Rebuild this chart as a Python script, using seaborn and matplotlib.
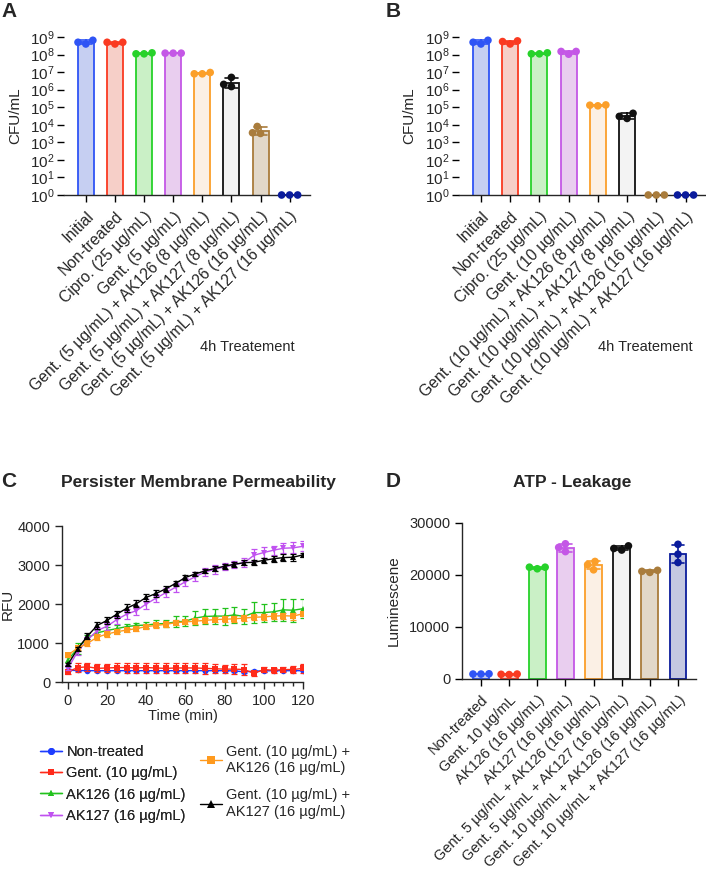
import numpy as np
import pandas as pd
import seaborn as sns
import matplotlib.pyplot as plt
from matplotlib.lines import Line2D
from matplotlib.ticker import LogLocator, MultipleLocator, NullFormatter

sns.set_theme(style='ticks')
plt.rcParams['font.family'] = ['Liberation Sans', 'DejaVu Sans']
plt.rcParams['mathtext.fontset'] = 'custom'
plt.rcParams['mathtext.rm'] = 'Liberation Sans'
plt.rcParams['mathtext.default'] = 'regular'
plt.rcParams['axes.linewidth'] = 1.0

# ---- data ----
edge_cols = ['#2f54f5', '#fa3a21', '#27d22a', '#c457e6', '#fb9f2a', '#111111', '#a97c3c', '#0b1c9c']
face_cols = ['#bfcbf9', '#fec9c0', '#c4f7bf', '#ecc9f4', '#fff0e1', '#f3f3f3', '#e6d9c5', '#bfc4e6']

labels_a = ['Initial', 'Non-treated', 'Cipro. (25 µg/mL)', 'Gent. (5 µg/mL)',
            'Gent. (5 µg/mL) + AK126 (8 µg/mL)', 'Gent. (5 µg/mL) + AK127 (8 µg/mL)',
            'Gent. (5 µg/mL) + AK126 (16 µg/mL)', 'Gent. (5 µg/mL) + AK127 (16 µg/mL)']
cfu_a = [[4.0e8, 6.5e8, 5.0e8], [4.0e8, 5.0e8, 5.0e8], [1.1e8, 1.25e8, 1.1e8],
         [1.2e8, 1.2e8, 1.2e8], [8.0e6, 9.5e6, 8.0e6], [5.0e6, 1.5e6, 2.0e6],
         [8.0e3, 3.2e3, 3.5e3], [1, 1, 1]]

labels_b = ['Initial', 'Non-treated', 'Cipro. (25 µg/mL)', 'Gent. (10 µg/mL)',
            'Gent. (10 µg/mL) + AK126 (8 µg/mL)', 'Gent. (10 µg/mL) + AK127 (8 µg/mL)',
            'Gent. (10 µg/mL) + AK126 (16 µg/mL)', 'Gent. (10 µg/mL) + AK127 (16 µg/mL)']
cfu_b = [[4.0e8, 6.5e8, 5.0e8], [4.0e8, 6.0e8, 5.5e8], [1.1e8, 1.25e8, 1.1e8],
         [1.05e8, 1.5e8, 1.5e8], [1.2e5, 1.35e5, 1.3e5], [2.3e4, 4.5e4, 3.0e4],
         [1, 1, 1], [1, 1, 1]]

labels_d = ['Non-treated', 'Gent. 10 µg/mL', 'AK126 (16 µg/mL)', 'AK127 (16 µg/mL)',
            'Gent. 5 µg/mL + AK126 (16 µg/mL)', 'Gent. 5 µg/mL + AK127 (16 µg/mL)',
            'Gent. 10 µg/mL + AK126 (16 µg/mL)', 'Gent. 10 µg/mL + AK127 (16 µg/mL)']
lum_d = [[950, 1000, 950], [850, 950, 900], [21200, 21500, 21500], [26000, 24500, 25300],
         [22600, 21000, 22000], [24800, 25600, 25100], [20500, 20900, 20700],
         [25900, 24000, 22400]]

time = [0, 5, 10, 15, 20, 25, 30, 35, 40, 45, 50, 55, 60, 65, 70, 75, 80, 85, 90, 95, 100, 105, 110, 115, 120]
nt_mean = [300, 295, 290, 290, 290, 290, 290, 290, 290, 290, 290, 290, 290, 290, 290, 290, 290, 285, 260, 280, 285, 290, 290, 290, 290]
nt_sd = [30, 25, 20, 20, 20, 20, 20, 20, 20, 20, 20, 20, 20, 20, 20, 20, 20, 20, 30, 20, 20, 20, 20, 20, 20]
gent_mean = [260, 370, 390, 350, 360, 370, 370, 360, 370, 360, 350, 360, 360, 360, 350, 340, 330, 330, 320, 220, 320, 300, 320, 320, 350]
gent_sd = [60, 110, 110, 100, 110, 120, 130, 140, 130, 140, 130, 130, 120, 130, 140, 120, 110, 120, 130, 70, 60, 70, 70, 80, 110]
ak126_mean = [570, 860, 1130, 1260, 1320, 1370, 1420, 1450, 1460, 1490, 1500, 1540, 1560, 1640, 1680, 1690, 1690, 1720, 1680, 1780, 1780, 1800, 1850, 1840, 1880]
ak126_sd = [60, 130, 80, 80, 90, 90, 70, 60, 80, 90, 90, 140, 130, 170, 200, 190, 220, 210, 180, 260, 230, 230, 290, 300, 240]
ak127_mean = [350, 780, 1080, 1320, 1430, 1600, 1740, 1830, 2000, 2150, 2290, 2430, 2570, 2700, 2820, 2890, 2950, 3010, 3060, 3250, 3320, 3380, 3430, 3440, 3480]
ak127_sd = [40, 100, 80, 100, 90, 100, 120, 110, 120, 110, 110, 110, 100, 110, 110, 110, 90, 90, 110, 150, 130, 120, 130, 140, 130]
g126_mean = [690, 870, 990, 1150, 1230, 1290, 1330, 1370, 1420, 1450, 1480, 1520, 1540, 1560, 1580, 1600, 1610, 1620, 1640, 1660, 1670, 1690, 1700, 1690, 1750]
g126_sd = [60, 60, 70, 70, 70, 60, 60, 60, 60, 60, 60, 60, 60, 60, 60, 70, 70, 70, 70, 70, 70, 80, 80, 90, 70]
g127_mean = [450, 850, 1180, 1450, 1580, 1740, 1890, 2010, 2170, 2270, 2390, 2530, 2680, 2770, 2850, 2910, 2970, 3020, 3060, 3070, 3120, 3160, 3190, 3200, 3260]
g127_sd = [40, 60, 70, 80, 90, 90, 100, 80, 90, 80, 80, 70, 60, 60, 60, 60, 60, 60, 60, 60, 70, 80, 100, 90, 60]

series_c = [
    ('Non-treated', nt_mean, nt_sd, '#1d3cff', 'o', 4),
    ('Gent. (10 µg/mL)', gent_mean, gent_sd, '#ff2a1a', 's', 4),
    ('AK126 (16 µg/mL)', ak126_mean, ak126_sd, '#22c21d', '^', 4),
    ('AK127 (16 µg/mL)', ak127_mean, ak127_sd, '#c052f0', 'v', 4),
    ('Gent. (10 µg/mL) +\nAK126 (16 µg/mL)', g126_mean, g126_sd, '#ff9a1e', 's', 5),
    ('Gent. (10 µg/mL) +\nAK127 (16 µg/mL)', g127_mean, g127_sd, '#000000', '^', 5),
]

W, H = 706, 871
fig = plt.figure(figsize=(W / 100, H / 100), dpi=100)


def px_axes(left, top, right, bottom):
    return fig.add_axes([left / W, 1 - bottom / H, (right - left) / W, (bottom - top) / H])


def bar_panel(ax, labels, values, log, width, xlim, xfs):
    df = pd.DataFrame({'group': np.repeat(labels, 3), 'val': np.concatenate(values)})
    if log:
        ax.set_yscale('log')
    sns.barplot(data=df, x='group', y='val', hue='group', order=labels, hue_order=labels,
                palette=dict(zip(labels, face_cols)), errorbar='sd', capsize=0.45,
                width=width, linewidth=1.3, legend=False, ax=ax,
                err_kws={'linewidth': 1.2})
    for cont, ec in zip(ax.containers, edge_cols):
        for p in cont:
            p.set_edgecolor(ec)
    for ln, ec in zip(ax.lines, edge_cols):
        ln.set_color(ec)
    sns.swarmplot(data=df, x='group', y='val', hue='group', order=labels, hue_order=labels,
                  palette=dict(zip(labels, edge_cols)), size=5.5, linewidth=0,
                  legend=False, ax=ax)
    for c in ax.collections:
        c.set_clip_on(False)
    ax.set_xlim(*xlim)
    ax.set_xlabel('')
    sns.despine(ax=ax)
    ax.tick_params(axis='both', length=5, width=1, color='black')
    ax.tick_params(axis='x', pad=5)
    ax.set_xticks(range(len(labels)))
    ax.set_xticklabels(labels, rotation=45, ha='right', rotation_mode='anchor', fontsize=xfs)


# ---- Panel A ----
axA = px_axes(64, 37, 310, 195)
bar_panel(axA, labels_a, cfu_a, True, 0.55, (-0.75, 7.7), 11.3)
axA.set_ylim(1, 1e9)
axA.yaxis.set_major_locator(LogLocator(base=10, numticks=12))
axA.yaxis.set_minor_formatter(NullFormatter())
axA.tick_params(axis='y', which='minor', length=0)
axA.tick_params(axis='y', labelsize=11, pad=2)
axA.spines['left'].set_visible(False)
axA.set_ylabel('CFU/mL', fontsize=11)
axA.yaxis.set_label_coords(-0.17, 0.5)

# ---- Panel B ----
axB = px_axes(459, 37, 706, 195)
bar_panel(axB, labels_b, cfu_b, True, 0.55, (-0.75, 7.7), 11.3)
axB.set_ylim(1, 1e9)
axB.yaxis.set_major_locator(LogLocator(base=10, numticks=12))
axB.yaxis.set_minor_formatter(NullFormatter())
axB.tick_params(axis='y', which='minor', length=0)
axB.tick_params(axis='y', labelsize=11, pad=2)
axB.spines['left'].set_visible(False)
axB.set_ylabel('CFU/mL', fontsize=11)
axB.yaxis.set_label_coords(-0.175, 0.5)

fig.text(200 / W, 1 - 347 / H, '4h Treatement', fontsize=10.5, va='center', ha='left')
fig.text(598 / W, 1 - 347 / H, '4h Treatement', fontsize=10.5, va='center', ha='left')

# ---- Panel C ----
axC = px_axes(62, 526, 303, 682)
handles = []
for name, m, sd, col, mk, ms in series_c:
    sns.lineplot(x=time, y=m, color=col, marker=mk, markersize=ms, markeredgewidth=0,
                 linewidth=1.0, ax=axC)
    axC.errorbar(time, m, yerr=sd, fmt='none', ecolor=col, elinewidth=0.9, capsize=2.5,
                 capthick=0.9)
    handles.append(Line2D([], [], color=col, marker=mk, markersize=ms + 1, markeredgewidth=0,
                          linewidth=1.0, label=name))
axC.set_xlim(-3, 120)
axC.set_ylim(0, 4000)
axC.xaxis.set_major_locator(MultipleLocator(20))
axC.xaxis.set_minor_locator(MultipleLocator(5))
axC.yaxis.set_major_locator(MultipleLocator(1000))
sns.despine(ax=axC)
axC.tick_params(axis='both', which='major', length=5, width=1, labelsize=10.5)
axC.tick_params(axis='x', which='minor', length=3, width=1)
axC.set_xlabel('Time (min)', fontsize=10.5, labelpad=1)
axC.set_ylabel('RFU', fontsize=11)
axC.yaxis.set_label_coords(-0.195, 0.5)
fig.text(198 / W, 1 - 482 / H, 'Persister Membrane Permeability', fontsize=12.5,
         fontweight='bold', ha='center', va='center')

leg1 = fig.legend(handles=handles[:4], loc='upper left', bbox_to_anchor=(40 / W, 1 - 745 / H),
                  frameon=False, fontsize=10.5, handlelength=1.5, handletextpad=0.3,
                  labelspacing=0.5, borderpad=0, borderaxespad=0)
fig.add_artist(leg1)
fig.legend(handles=handles[4:], loc='upper left', bbox_to_anchor=(200 / W, 1 - 745 / H),
           frameon=False, fontsize=10.5, handlelength=1.5, handletextpad=0.3,
           labelspacing=0.9, borderpad=0, borderaxespad=0)

# ---- Panel D ----
axD = px_axes(462, 523, 696, 679)
bar_panel(axD, labels_d, lum_d, False, 0.6, (-0.675, 7.64), 10.5)
axD.set_ylim(0, 30000)
axD.yaxis.set_major_locator(MultipleLocator(10000))
axD.tick_params(axis='y', labelsize=10.5)
axD.set_ylabel('Luminescene', fontsize=11)
axD.yaxis.set_label_coords(-0.26, 0.5)
fig.text(572 / W, 1 - 482 / H, 'ATP - Leakage', fontsize=12.5, fontweight='bold',
         ha='center', va='center')

# ---- panel letters ----
for letter, x, y in [('A', 1, 2), ('B', 386, 2), ('C', 1, 472), ('D', 386, 472)]:
    fig.text(x / W, 1 - y / H, letter, fontsize=15, fontweight='bold', ha='left', va='top')

fig.savefig('out.png', dpi=100)
